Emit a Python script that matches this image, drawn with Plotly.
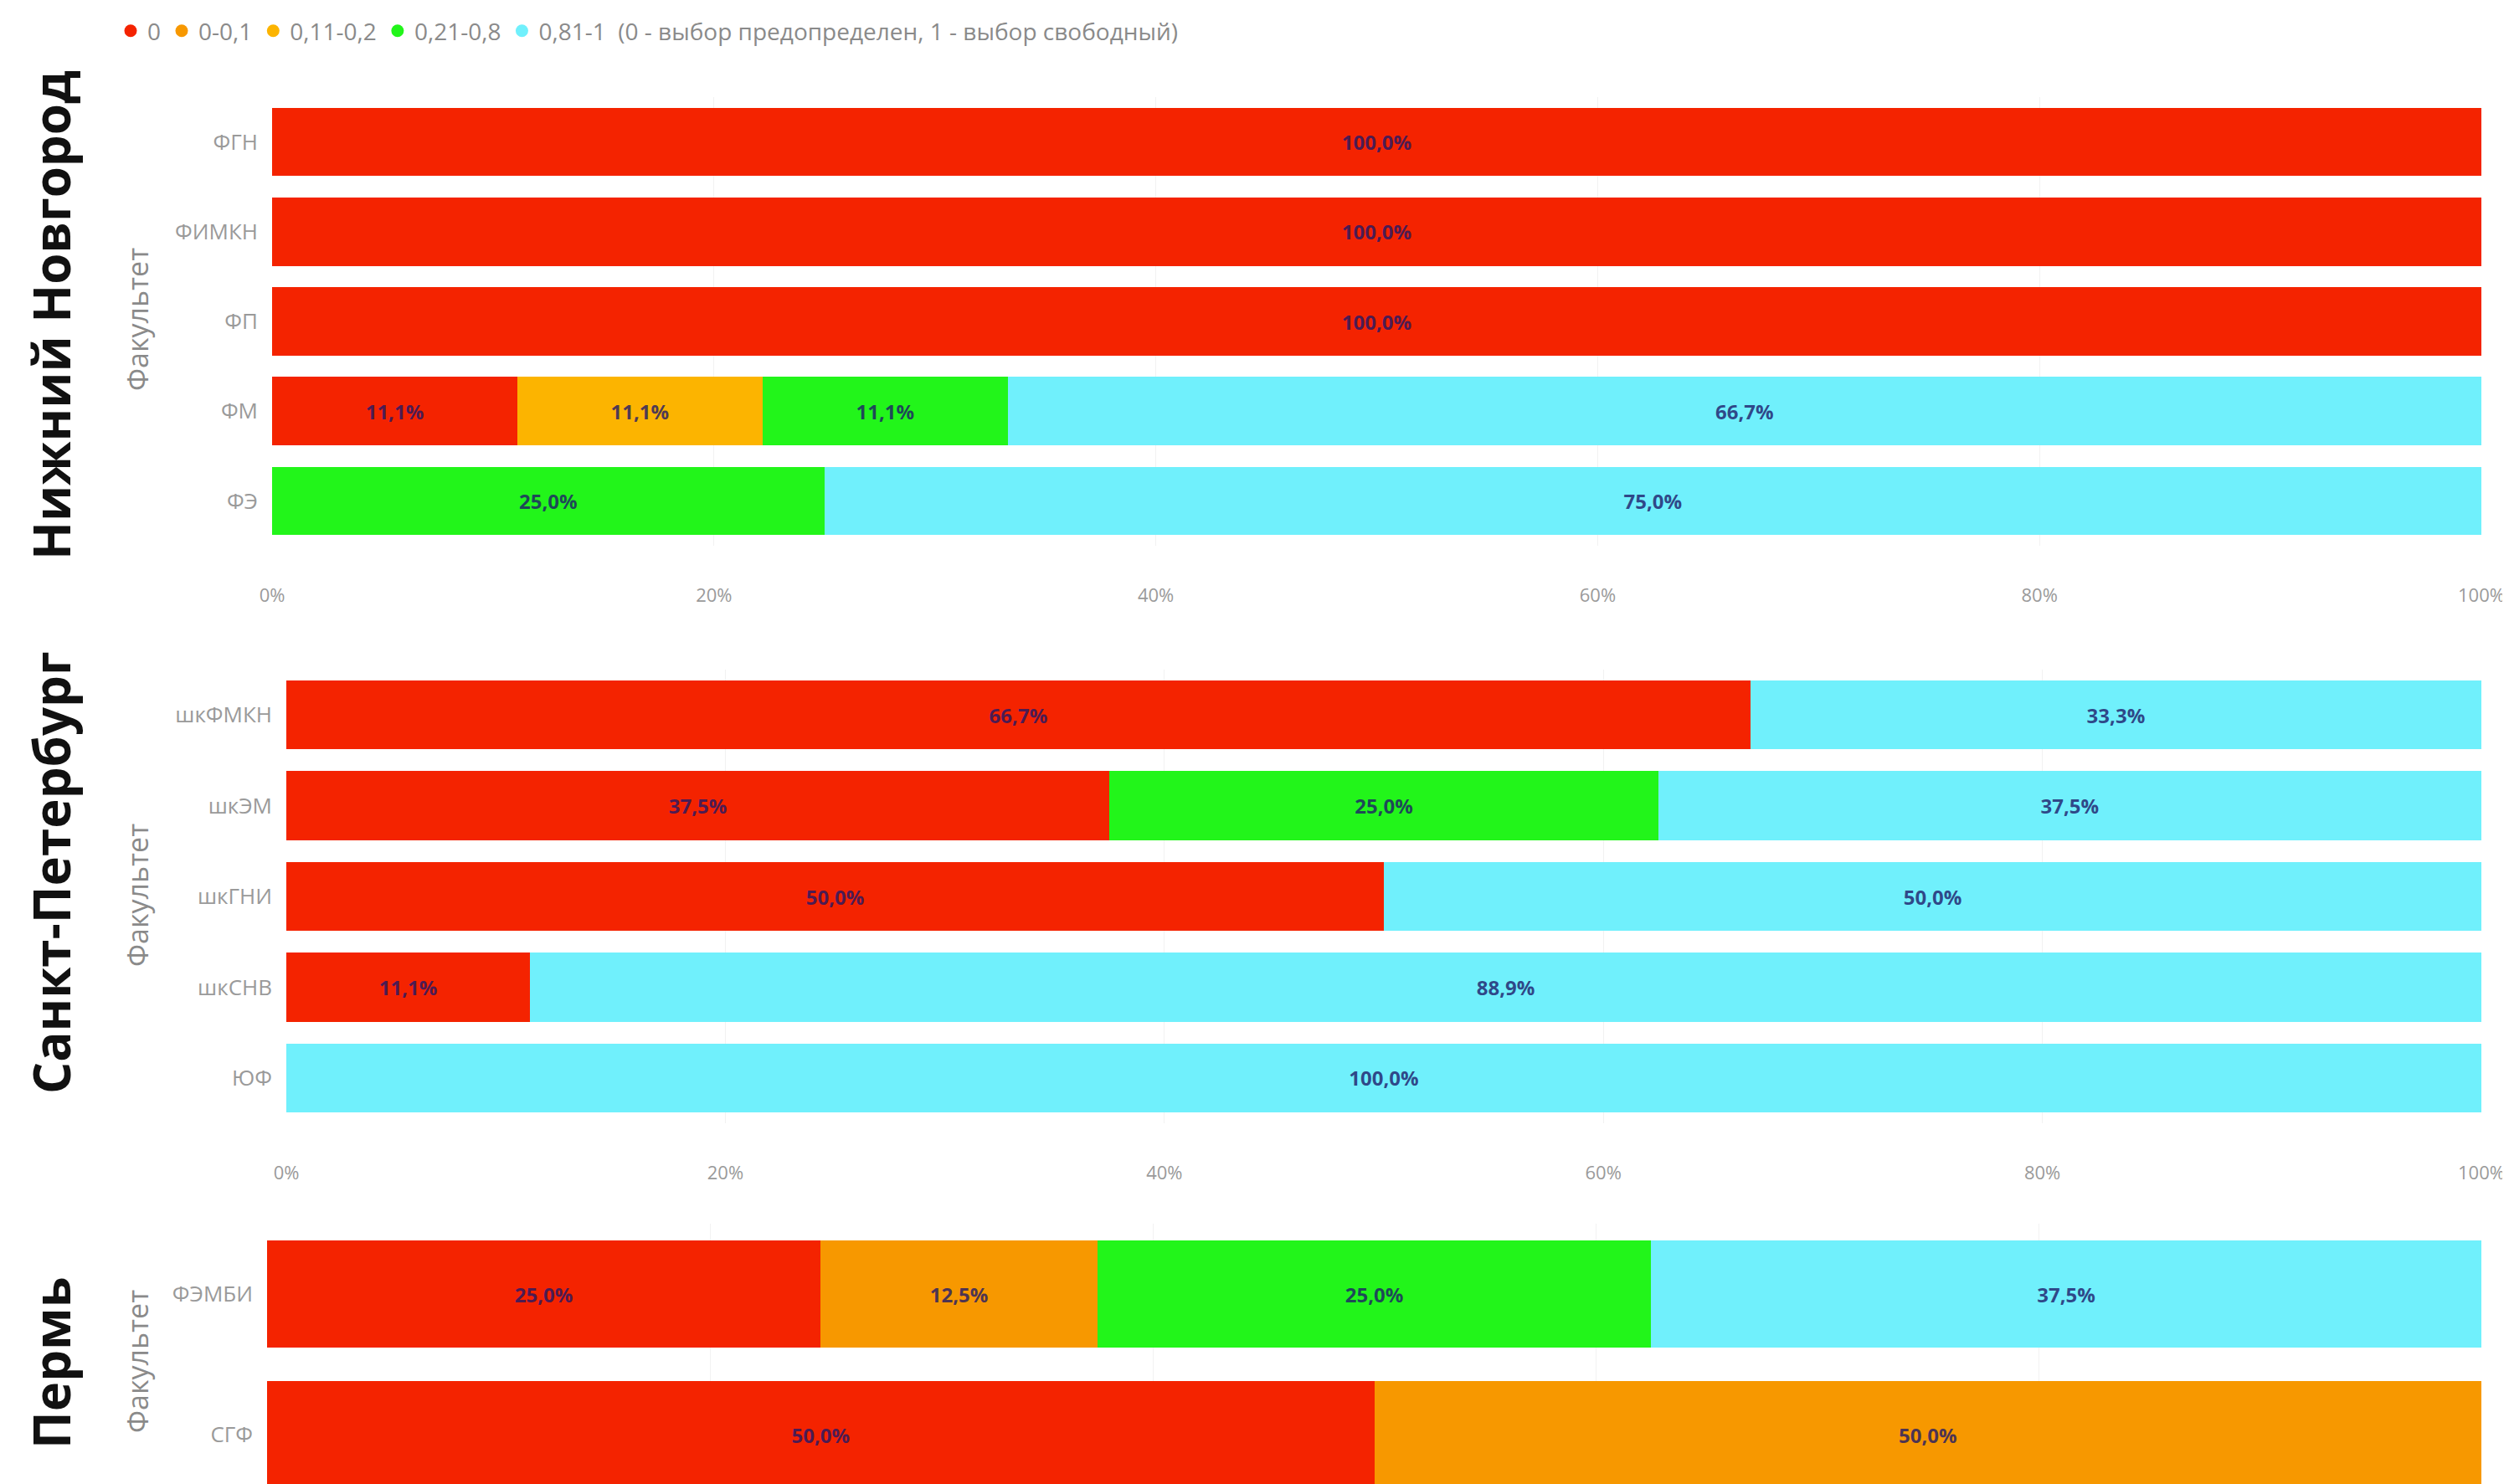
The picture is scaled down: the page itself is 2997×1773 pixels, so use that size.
import plotly.graph_objects as go

# Category colours (legend order)
bins = ["0", "0-0,1", "0,11-0,2", "0,21-0,8", "0,81-1"]
colors = ["#F42300", "#F79800", "#FCB400", "#22F51A", "#70F0FC"]
legend_note = "  (0 - выбор предопределен, 1 - выбор свободный)"

# Нижний Новгород
nn_faculties = ["ФГН", "ФИМКН", "ФП", "ФМ", "ФЭ"]
nn_0 = [100.0, 100.0, 100.0, 11.1, None]
nn_01 = [None, None, None, None, None]
nn_02 = [None, None, None, 11.1, None]
nn_08 = [None, None, None, 11.1, 25.0]
nn_1 = [None, None, None, 66.7, 75.0]

# Санкт-Петербург
spb_faculties = ["шкФМКН", "шкЭМ", "шкГНИ", "шкСНВ", "ЮФ"]
spb_0 = [66.7, 37.5, 50.0, 11.1, None]
spb_01 = [None, None, None, None, None]
spb_02 = [None, None, None, None, None]
spb_08 = [None, 25.0, None, None, None]
spb_1 = [33.3, 37.5, 50.0, 88.9, 100.0]

# Пермь
perm_faculties = ["ФЭМБИ", "СГФ"]
perm_0 = [25.0, 50.0]
perm_01 = [12.5, 50.0]
perm_02 = [None, None]
perm_08 = [25.0, None]
perm_1 = [37.5, None]

x_ticks = [0, 20, 40, 60, 80, 100]
x_tick_labels = ["0%", "20%", "40%", "60%", "80%", "100%"]

W, H = 2997, 1773
OFF = 8  # page body margin

panels = [
    # city, faculties, series, x-domain px, y-domain px (top, bottom), y range,
    # bar gap, city label y, axis title y, show x tick labels
    ("Нижний Новгород", nn_faculties, [nn_0, nn_01, nn_02, nn_08, nn_1],
     (325, 2964), (116, 652), [4.5, -0.5], 0.23, 377, 382, True),
    ("Санкт-Петербург", spb_faculties, [spb_0, spb_01, spb_02, spb_08, spb_1],
     (342, 2964), (800, 1342), [4.5, -0.5], 0.23, 1043, 1070, True),
    ("Пермь", perm_faculties, [perm_0, perm_01, perm_02, perm_08, perm_1],
     (319, 2964), (1462, 1773), [1.351, -0.5], 0.24, 1628, 1627, False),
]


def px_x(v):
    return (v - OFF) / W


def px_y(v):
    return 1 - (v - OFF) / H


fig = go.Figure()
annotations = []
layout_axes = {}

for i, (city, facs, series, xd, yd, yrange, gap, city_y, fac_y, show_x) in enumerate(panels):
    n = "" if i == 0 else str(i + 1)
    for b, col, vals in zip(bins, colors, series):
        if all(v is None for v in vals):
            continue
        fig.add_trace(go.Bar(
            y=facs, x=vals, orientation="h", name=b,
            marker=dict(color=col, line=dict(width=0)),
            texttemplate="%{x:.1f}%", textposition="inside",
            insidetextanchor="middle", textangle=0,
            textfont=dict(family="Open Sans", size=24, color="rgba(30,25,105,0.8)",
                          weight="bold"),
            showlegend=False, xaxis="x" + n, yaxis="y" + n,
            hoverinfo="skip",
        ))
    layout_axes["xaxis" + n] = dict(
        domain=[px_x(xd[0]), min(px_x(xd[1]), 1)], anchor="y" + n, range=[0, 100],
        tickmode="array", tickvals=x_ticks, ticktext=x_tick_labels,
        showticklabels=show_x, showgrid=True, gridcolor="#f2f2f2",
        zeroline=False, showline=False, automargin=False,
        tickfont=dict(family="Open Sans", size=22, color="#9a9a9a"),
        ticklabelstandoff=44, fixedrange=True,
    )
    layout_axes["yaxis" + n] = dict(
        domain=[max(px_y(yd[1]), 0), px_y(yd[0])], anchor="x" + n,
        type="category", categoryorder="array", categoryarray=facs,
        range=yrange, showgrid=False, zeroline=False, showline=False,
        automargin=False,
        tickfont=dict(family="Open Sans", size=26, color="#9a9a9a"),
        ticklabelstandoff=16,
    )
    fig.update_layout(bargap=gap)
    annotations.append(dict(
        text=city, x=px_x(61), y=px_y(city_y), xref="paper", yref="paper",
        textangle=-90, showarrow=False, xanchor="center", yanchor="middle",
        font=dict(family="Open Sans", size=60, color="#111111", weight="bold"),
    ))
    annotations.append(dict(
        text="Факультет", x=px_x(164), y=px_y(fac_y), xref="paper", yref="paper",
        textangle=-90, showarrow=False, xanchor="center", yanchor="middle",
        font=dict(family="Open Sans", size=34, color="#8a8a8a"),
    ))

# Legend entries drawn as circles
for b, col in zip(bins, colors):
    label = b + legend_note if b == "0,81-1" else b
    fig.add_trace(go.Scatter(
        x=[None], y=[None], mode="markers", name=label,
        marker=dict(color=col, size=15, symbol="circle"),
        showlegend=True, xaxis="x", yaxis="y",
    ))

fig.update_layout(
    width=W, height=H,
    margin=dict(l=0, r=0, t=0, b=0, autoexpand=False),
    paper_bgcolor="white", plot_bgcolor="white",
    barmode="stack", separators=", ",
    annotations=annotations,
    legend=dict(
        orientation="h", x=px_x(136), y=1 - 4 / H, xanchor="left", yanchor="top",
        traceorder="normal",
        font=dict(family="Open Sans", size=28, color="#8a8a8a"),
        itemwidth=30, tracegroupgap=0, itemclick=False,
    ),
    **layout_axes,
)

fig.write_html("out.html")
